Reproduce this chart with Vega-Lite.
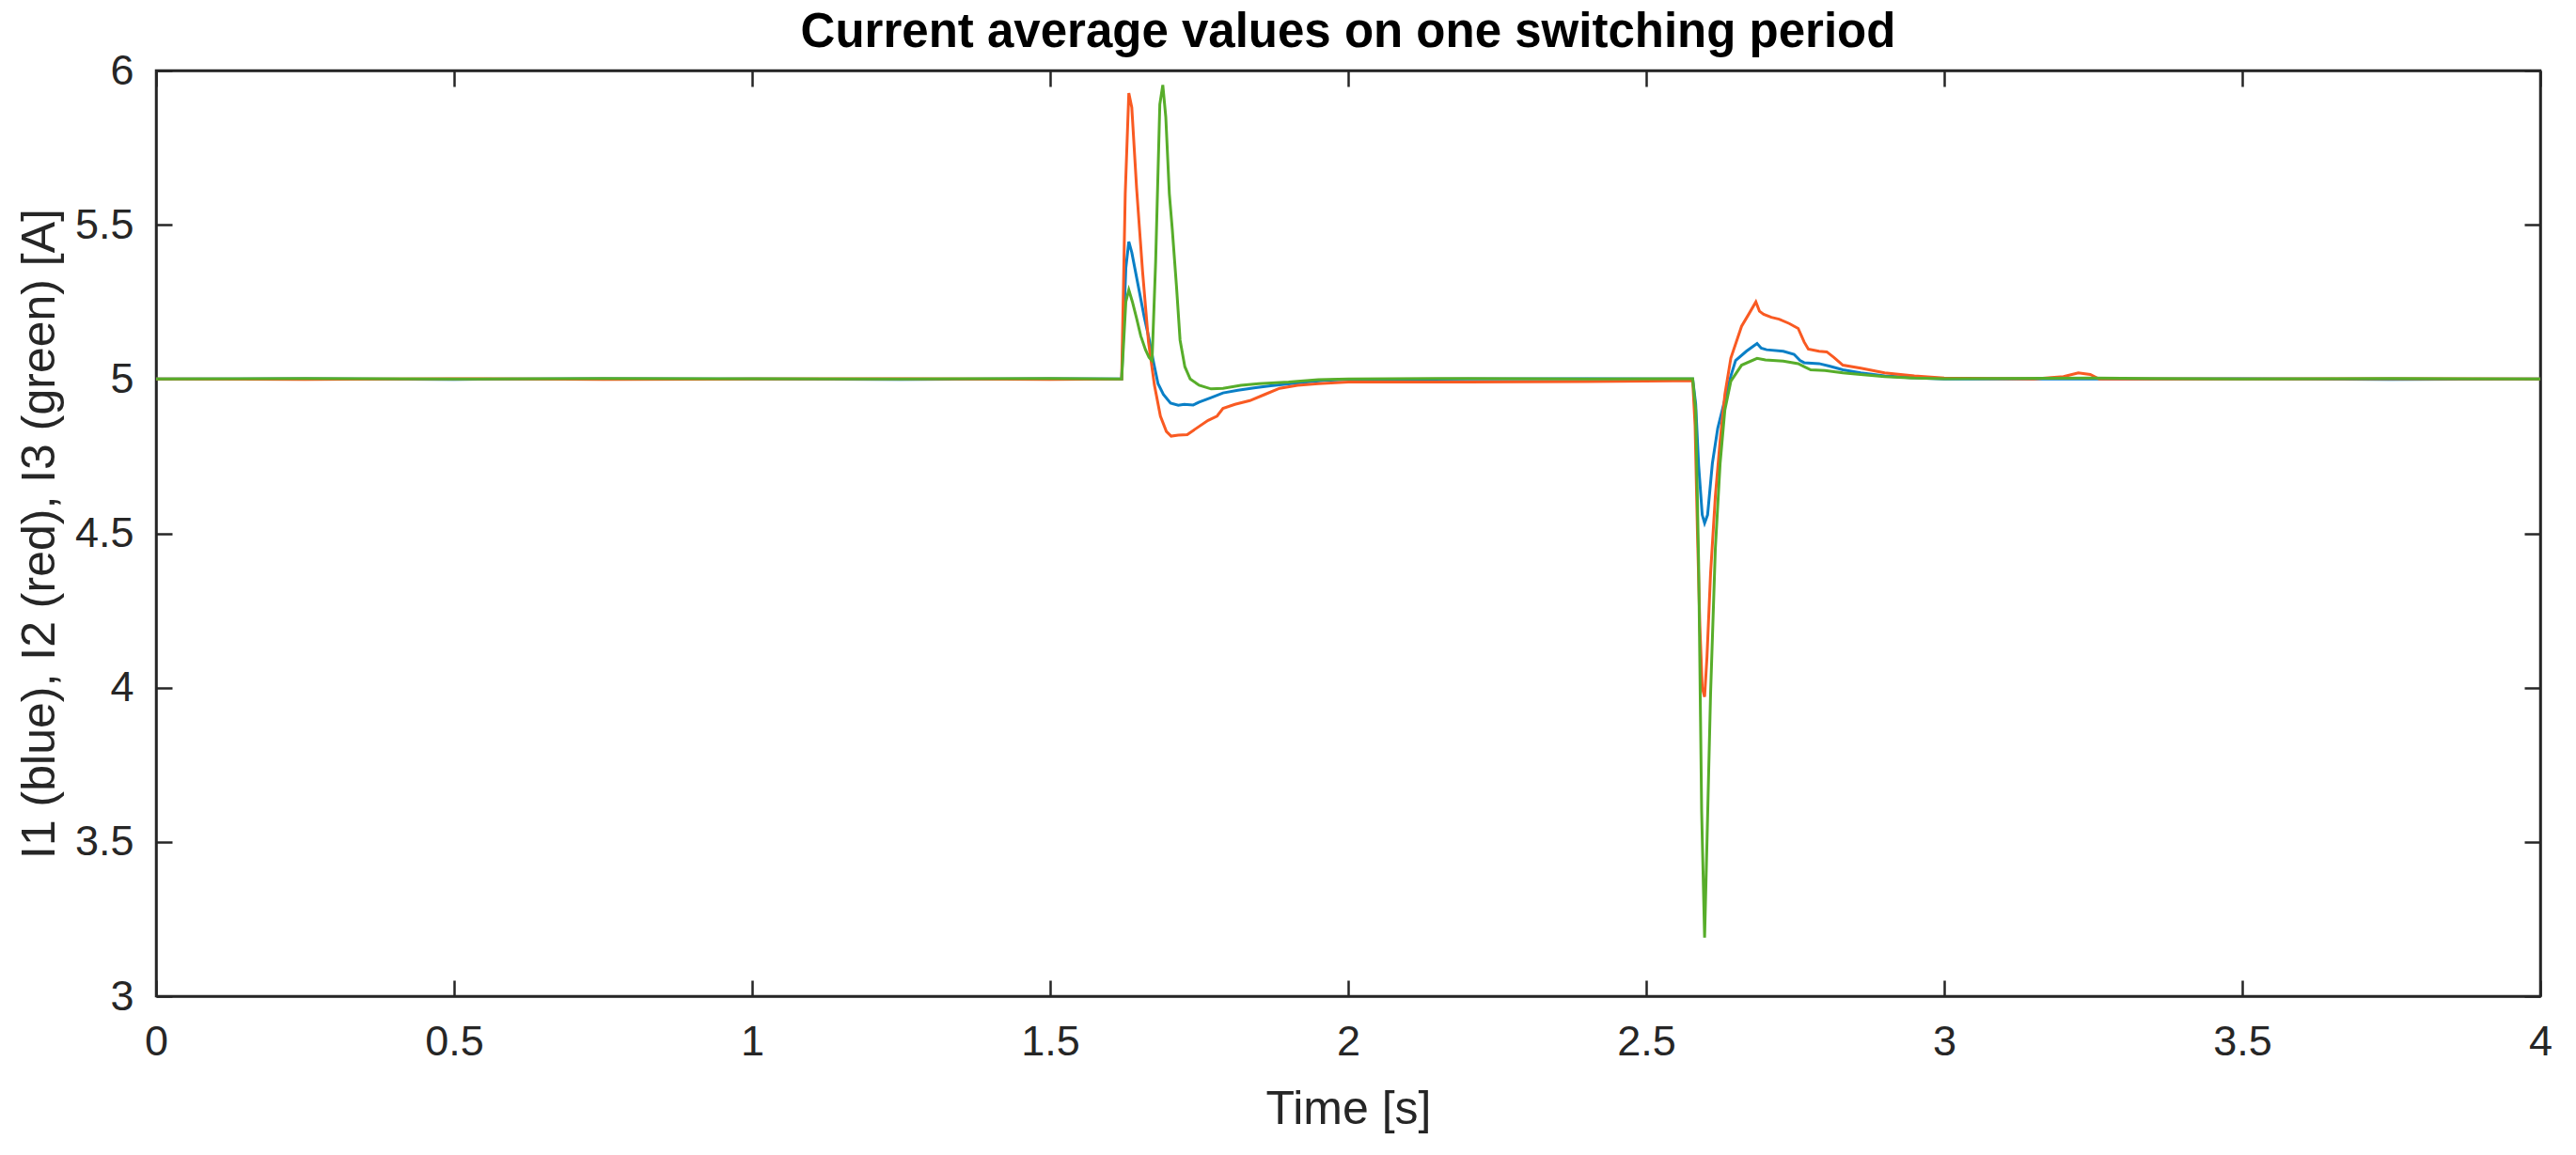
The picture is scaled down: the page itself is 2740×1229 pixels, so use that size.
{
  "$schema": "https://vega.github.io/schema/vega-lite/v6.json",
  "width": 2536,
  "height": 985,
  "autosize": {"type": "none"},
  "padding": {"left": 166, "top": 75, "right": 38, "bottom": 169},
  "background": "white",
  "config": {
    "view": {"stroke": "#262626", "strokeWidth": 2.5},
    "font": "Liberation Sans",
    "axis": {
      "grid": false,
      "domainColor": "#262626",
      "domainWidth": 2.5,
      "tickColor": "#262626",
      "tickWidth": 2.5,
      "tickSize": -17,
      "labelFont": "Liberation Sans",
      "labelFontSize": 45,
      "labelColor": "#262626",
      "titleFont": "Liberation Sans",
      "titleFontSize": 50,
      "titleFontWeight": "normal",
      "titleColor": "#262626"
    }
  },
  "title": {
    "text": "Current average values on one switching period",
    "font": "Liberation Sans",
    "fontSize": 51,
    "fontWeight": "bold",
    "color": "#000000",
    "anchor": "middle",
    "offset": -8
  },
  "data": {
    "values": [
      {"s":"I1","t":0,"v":5.0},{"s":"I1","t":0.25,"v":5.001},{"s":"I1","t":0.5,"v":4.999},{"s":"I1","t":0.75,"v":5.001},{"s":"I1","t":1.0,"v":5.0},{"s":"I1","t":1.25,"v":4.999},{"s":"I1","t":1.5,"v":5.001},{"s":"I1","t":1.62,"v":5.0},{"s":"I1","t":1.627,"v":5.36},{"s":"I1","t":1.632,"v":5.445},{"s":"I1","t":1.637,"v":5.41},{"s":"I1","t":1.642,"v":5.36},{"s":"I1","t":1.65,"v":5.28},{"s":"I1","t":1.658,"v":5.2},{"s":"I1","t":1.666,"v":5.13},{"s":"I1","t":1.674,"v":5.05},{"s":"I1","t":1.681,"v":4.985},{"s":"I1","t":1.69,"v":4.95},{"s":"I1","t":1.702,"v":4.922},{"s":"I1","t":1.715,"v":4.915},{"s":"I1","t":1.725,"v":4.918},{"s":"I1","t":1.74,"v":4.916},{"s":"I1","t":1.75,"v":4.925},{"s":"I1","t":1.77,"v":4.94},{"s":"I1","t":1.79,"v":4.955},{"s":"I1","t":1.815,"v":4.964},{"s":"I1","t":1.845,"v":4.972},{"s":"I1","t":1.87,"v":4.978},{"s":"I1","t":1.9,"v":4.984},{"s":"I1","t":1.93,"v":4.99},{"s":"I1","t":1.96,"v":4.996},{"s":"I1","t":2.0,"v":4.999},{"s":"I1","t":2.2,"v":5.0},{"s":"I1","t":2.4,"v":5.001},{"s":"I1","t":2.578,"v":5.0},{"s":"I1","t":2.583,"v":4.92},{"s":"I1","t":2.588,"v":4.72},{"s":"I1","t":2.594,"v":4.56},{"s":"I1","t":2.598,"v":4.533},{"s":"I1","t":2.603,"v":4.56},{"s":"I1","t":2.611,"v":4.726},{"s":"I1","t":2.62,"v":4.84},{"s":"I1","t":2.632,"v":4.934},{"s":"I1","t":2.642,"v":5.01},{"s":"I1","t":2.65,"v":5.06},{"s":"I1","t":2.668,"v":5.09},{"s":"I1","t":2.686,"v":5.115},{"s":"I1","t":2.693,"v":5.1},{"s":"I1","t":2.702,"v":5.095},{"s":"I1","t":2.73,"v":5.09},{"s":"I1","t":2.748,"v":5.08},{"s":"I1","t":2.758,"v":5.06},{"s":"I1","t":2.765,"v":5.053},{"s":"I1","t":2.79,"v":5.05},{"s":"I1","t":2.807,"v":5.042},{"s":"I1","t":2.83,"v":5.03},{"s":"I1","t":2.86,"v":5.02},{"s":"I1","t":2.9,"v":5.01},{"s":"I1","t":2.95,"v":5.004},{"s":"I1","t":3.0,"v":5.0},{"s":"I1","t":3.25,"v":5.0},{"s":"I1","t":3.5,"v":5.001},{"s":"I1","t":3.75,"v":4.999},{"s":"I1","t":4.0,"v":5.0},
      {"s":"I2","t":0,"v":5.0},{"s":"I2","t":0.25,"v":4.999},{"s":"I2","t":0.5,"v":5.001},{"s":"I2","t":0.75,"v":4.999},{"s":"I2","t":1.0,"v":5.0},{"s":"I2","t":1.25,"v":5.001},{"s":"I2","t":1.5,"v":4.999},{"s":"I2","t":1.62,"v":5.0},{"s":"I2","t":1.626,"v":5.6},{"s":"I2","t":1.632,"v":5.927},{"s":"I2","t":1.637,"v":5.88},{"s":"I2","t":1.645,"v":5.62},{"s":"I2","t":1.655,"v":5.35},{"s":"I2","t":1.665,"v":5.12},{"s":"I2","t":1.675,"v":4.98},{"s":"I2","t":1.685,"v":4.88},{"s":"I2","t":1.695,"v":4.83},{"s":"I2","t":1.703,"v":4.815},{"s":"I2","t":1.715,"v":4.818},{"s":"I2","t":1.73,"v":4.82},{"s":"I2","t":1.745,"v":4.84},{"s":"I2","t":1.765,"v":4.866},{"s":"I2","t":1.78,"v":4.88},{"s":"I2","t":1.79,"v":4.905},{"s":"I2","t":1.81,"v":4.918},{"s":"I2","t":1.835,"v":4.93},{"s":"I2","t":1.86,"v":4.95},{"s":"I2","t":1.885,"v":4.97},{"s":"I2","t":1.915,"v":4.98},{"s":"I2","t":1.95,"v":4.985},{"s":"I2","t":2.0,"v":4.99},{"s":"I2","t":2.2,"v":4.99},{"s":"I2","t":2.4,"v":4.992},{"s":"I2","t":2.578,"v":4.995},{"s":"I2","t":2.582,"v":4.85},{"s":"I2","t":2.586,"v":4.5},{"s":"I2","t":2.59,"v":4.2},{"s":"I2","t":2.594,"v":4.0},{"s":"I2","t":2.598,"v":3.97},{"s":"I2","t":2.602,"v":4.1},{"s":"I2","t":2.608,"v":4.37},{"s":"I2","t":2.616,"v":4.62},{"s":"I2","t":2.624,"v":4.8},{"s":"I2","t":2.632,"v":4.95},{"s":"I2","t":2.642,"v":5.068},{"s":"I2","t":2.66,"v":5.171},{"s":"I2","t":2.672,"v":5.21},{"s":"I2","t":2.684,"v":5.25},{"s":"I2","t":2.69,"v":5.22},{"s":"I2","t":2.697,"v":5.21},{"s":"I2","t":2.71,"v":5.2},{"s":"I2","t":2.723,"v":5.194},{"s":"I2","t":2.74,"v":5.18},{"s":"I2","t":2.755,"v":5.164},{"s":"I2","t":2.765,"v":5.12},{"s":"I2","t":2.772,"v":5.097},{"s":"I2","t":2.79,"v":5.09},{"s":"I2","t":2.803,"v":5.088},{"s":"I2","t":2.815,"v":5.07},{"s":"I2","t":2.83,"v":5.045},{"s":"I2","t":2.86,"v":5.035},{"s":"I2","t":2.9,"v":5.02},{"s":"I2","t":2.95,"v":5.01},{"s":"I2","t":3.0,"v":5.003},{"s":"I2","t":3.15,"v":5.0},{"s":"I2","t":3.2,"v":5.008},{"s":"I2","t":3.225,"v":5.02},{"s":"I2","t":3.245,"v":5.015},{"s":"I2","t":3.26,"v":5.0},{"s":"I2","t":3.5,"v":5.0},{"s":"I2","t":3.75,"v":5.001},{"s":"I2","t":4.0,"v":5.0},
      {"s":"I3","t":0,"v":5.0},{"s":"I3","t":0.25,"v":5.002},{"s":"I3","t":0.5,"v":5.0},{"s":"I3","t":0.75,"v":5.002},{"s":"I3","t":1.0,"v":5.001},{"s":"I3","t":1.25,"v":5.0},{"s":"I3","t":1.5,"v":5.002},{"s":"I3","t":1.62,"v":5.0},{"s":"I3","t":1.627,"v":5.25},{"s":"I3","t":1.632,"v":5.289},{"s":"I3","t":1.638,"v":5.25},{"s":"I3","t":1.645,"v":5.197},{"s":"I3","t":1.652,"v":5.14},{"s":"I3","t":1.66,"v":5.095},{"s":"I3","t":1.666,"v":5.07},{"s":"I3","t":1.671,"v":5.06},{"s":"I3","t":1.677,"v":5.38},{"s":"I3","t":1.684,"v":5.89},{"s":"I3","t":1.689,"v":5.953},{"s":"I3","t":1.694,"v":5.85},{"s":"I3","t":1.7,"v":5.6},{"s":"I3","t":1.705,"v":5.483},{"s":"I3","t":1.712,"v":5.3},{"s":"I3","t":1.718,"v":5.126},{"s":"I3","t":1.726,"v":5.04},{"s":"I3","t":1.735,"v":5.0},{"s":"I3","t":1.75,"v":4.98},{"s":"I3","t":1.77,"v":4.968},{"s":"I3","t":1.79,"v":4.97},{"s":"I3","t":1.82,"v":4.98},{"s":"I3","t":1.85,"v":4.985},{"s":"I3","t":1.9,"v":4.99},{"s":"I3","t":1.95,"v":4.998},{"s":"I3","t":2.0,"v":5.0},{"s":"I3","t":2.2,"v":5.002},{"s":"I3","t":2.4,"v":5.0},{"s":"I3","t":2.578,"v":5.001},{"s":"I3","t":2.583,"v":4.9},{"s":"I3","t":2.588,"v":4.4},{"s":"I3","t":2.593,"v":3.6},{"s":"I3","t":2.598,"v":3.19},{"s":"I3","t":2.602,"v":3.5},{"s":"I3","t":2.608,"v":3.98},{"s":"I3","t":2.616,"v":4.45},{"s":"I3","t":2.624,"v":4.726},{"s":"I3","t":2.632,"v":4.9},{"s":"I3","t":2.642,"v":4.993},{"s":"I3","t":2.66,"v":5.045},{"s":"I3","t":2.686,"v":5.067},{"s":"I3","t":2.7,"v":5.062},{"s":"I3","t":2.73,"v":5.058},{"s":"I3","t":2.755,"v":5.05},{"s":"I3","t":2.765,"v":5.04},{"s":"I3","t":2.776,"v":5.03},{"s":"I3","t":2.8,"v":5.028},{"s":"I3","t":2.83,"v":5.02},{"s":"I3","t":2.86,"v":5.015},{"s":"I3","t":2.9,"v":5.008},{"s":"I3","t":2.95,"v":5.003},{"s":"I3","t":3.0,"v":5.001},{"s":"I3","t":3.25,"v":5.003},{"s":"I3","t":3.5,"v":5.0},{"s":"I3","t":3.75,"v":5.002},{"s":"I3","t":4.0,"v":5.0}
    ]
  },
  "resolve": {"axis": {"x": "independent", "y": "independent"}},
  "layer": [
    {
      "mark": {"type": "line", "strokeWidth": 3, "interpolate": "linear"},
      "encoding": {
        "x": {"field": "t", "type": "quantitative",
              "scale": {"domain": [0, 4], "nice": false, "zero": false},
              "axis": {"orient": "bottom", "title": "Time [s]", "values": [0,0.5,1,1.5,2,2.5,3,3.5,4], "format": "~g", "labelPadding": 43, "titlePadding": 24, "labelFlush": false}},
        "y": {"field": "v", "type": "quantitative",
              "scale": {"domain": [3, 6], "nice": false, "zero": false},
              "axis": {"orient": "left", "title": "I1 (blue), I2 (red), I3 (green) [A]", "values": [3,3.5,4,4.5,5,5.5,6], "format": "~g", "labelPadding": 41, "titlePadding": 12, "labelFlush": false}},
        "color": {"field": "s", "type": "nominal",
                  "scale": {"domain": ["I1","I2","I3"], "range": ["#0A7FC6","#F95A22","#57AD2A"]},
                  "legend": null}
      }
    },
    {
      "mark": {"type": "line", "opacity": 0},
      "encoding": {
        "x": {"field": "t", "type": "quantitative",
              "axis": {"orient": "top", "title": null, "labels": false, "values": [0,0.5,1,1.5,2,2.5,3,3.5,4]}},
        "y": {"field": "v", "type": "quantitative",
              "axis": {"orient": "right", "title": null, "labels": false, "values": [3,3.5,4,4.5,5,5.5,6]}},
        "detail": {"field": "s", "type": "nominal"}
      }
    }
  ]
}
